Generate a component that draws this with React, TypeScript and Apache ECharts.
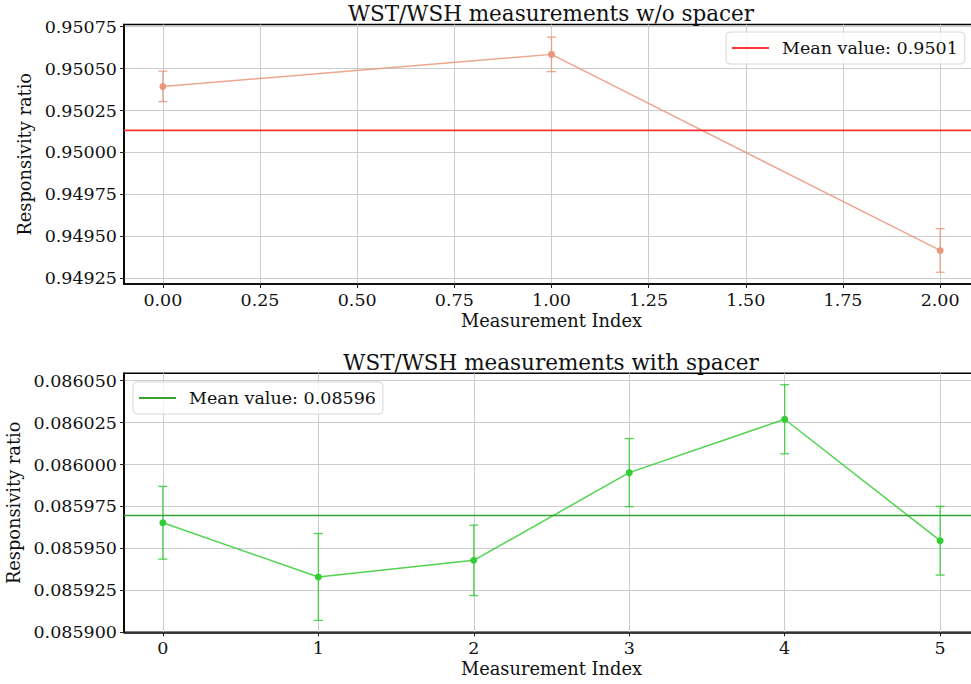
import React, { useEffect, useRef } from "react";
import * as echarts from "echarts";

// ---- Data: WST/WSH measurements w/o spacer ----
const xNoSpacer = [0, 1, 2];
const valNoSpacer = [0.950394, 0.950585, 0.949416];
const errNoSpacer = [0.000091, 0.000103, 0.00013];
const legendNoSpacer = "Mean value: 0.9501";

// ---- Data: WST/WSH measurements with spacer ----
const xSpacer = [0, 1, 2, 3, 4, 5];
const valSpacer = [0.0859653, 0.085933, 0.0859429, 0.0859952, 0.086027, 0.0859546];
const errSpacer = [0.0000217, 0.0000259, 0.000021, 0.0000203, 0.0000206, 0.0000205];
const legendSpacer = "Mean value: 0.08596";

// ---- Tick values ----
const xTicksTop = [0, 0.25, 0.5, 0.75, 1.0, 1.25, 1.5, 1.75, 2.0];
const yTicksTop = [0.94925, 0.9495, 0.94975, 0.95, 0.95025, 0.9505, 0.95075];
const xTicksBottom = [0, 1, 2, 3, 4, 5];
const yTicksBottom = [0.0859, 0.085925, 0.08595, 0.085975, 0.086, 0.086025, 0.08605];

// ---- Axis ranges ----
const xRangeTop = [-0.1, 2.1];
const yRangeTop = [0.949216, 0.9507631];
const xRangeBottom = [-0.25, 5.25];
const yRangeBottom = [0.0859, 0.0860544];

const FONT = "DejaVu Serif";
const TICK_FS = 17.5;
const NAME_FS = 17.8;
const mean = (a: number[]) => a.reduce((s, v) => s + v, 0) / a.length;

function errorBarSeries(
  name: string,
  xs: number[],
  ys: number[],
  es: number[],
  color: string,
  idx: number
) {
  return {
    type: "custom",
    name,
    xAxisIndex: idx,
    yAxisIndex: idx,
    silent: true,
    z: 3,
    data: xs.map((x, i) => [x, ys[i], es[i]]),
    encode: { x: 0, y: 1 },
    renderItem: (params: any, api: any) => {
      const x = api.value(0);
      const y = api.value(1);
      const e = api.value(2);
      const top = api.coord([x, y + e]);
      const bot = api.coord([x, y - e]);
      const hw = 4.5;
      const style = { stroke: color, lineWidth: 1.3, fill: null };
      return {
        type: "group",
        children: [
          { type: "line", shape: { x1: top[0], y1: top[1], x2: bot[0], y2: bot[1] }, style },
          { type: "line", shape: { x1: top[0] - hw, y1: top[1], x2: top[0] + hw, y2: top[1] }, style },
          { type: "line", shape: { x1: bot[0] - hw, y1: bot[1], x2: bot[0] + hw, y2: bot[1] }, style },
        ],
      };
    },
  };
}

function xAxisCfg(idx: number, range: number[], ticks: number[], digits: number) {
  return {
    type: "value",
    gridIndex: idx,
    min: range[0],
    max: range[1],
    name: "Measurement Index",
    nameLocation: "middle",
    nameGap: 27,
    nameTextStyle: { fontFamily: FONT, fontSize: NAME_FS, color: "#111" },
    axisLine: { show: true, onZero: false, lineStyle: { color: "#000", width: 1.6 } },
    axisTick: { show: true, length: 4, customValues: ticks, lineStyle: { color: "#222", width: 1 } },
    axisLabel: {
      customValues: ticks,
      margin: 7,
      fontFamily: FONT,
      fontSize: TICK_FS,
      color: "#111",
      formatter: (v: number) => v.toFixed(digits),
    },
    splitLine: { show: true, lineStyle: { color: "#cccccc", width: 1 } },
  };
}

function yAxisCfg(idx: number, range: number[], ticks: number[], digits: number, gap: number) {
  return {
    type: "value",
    gridIndex: idx,
    min: range[0],
    max: range[1],
    scale: true,
    name: "Responsivity ratio",
    nameLocation: "middle",
    nameGap: gap,
    nameTextStyle: { fontFamily: FONT, fontSize: NAME_FS, color: "#111" },
    axisLine: { show: true, onZero: false, lineStyle: { color: "#000", width: 1.6 } },
    axisTick: { show: true, length: 4, customValues: ticks, lineStyle: { color: "#222", width: 1 } },
    axisLabel: {
      customValues: ticks,
      margin: 7,
      fontFamily: FONT,
      fontSize: TICK_FS,
      color: "#111",
      formatter: (v: number) => v.toFixed(digits),
    },
    splitLine: { show: true, lineStyle: { color: "#cccccc", width: 1 } },
  };
}

export default function App() {
  const ref = useRef<HTMLDivElement>(null);

  useEffect(() => {
    if (!ref.current) return;
    const chart = echarts.init(ref.current, null, { renderer: "svg" });

    const topColor = "#E9967A";
    const topLine = "rgba(233,150,122,0.85)";
    const topMeanColor = "#FF3333";
    const botColor = "#32CD32";
    const botLine = "rgba(50,205,50,0.85)";
    const botMeanColor = "#36A336";

    const meanTop = mean(valNoSpacer);
    const meanBot = mean(valSpacer);

    const legendCommon = {
      orient: "horizontal",
      icon: "rect",
      itemWidth: 37,
      itemHeight: 2,
      backgroundColor: "rgba(255,255,255,0.8)",
      borderColor: "#d6d6d6",
      borderWidth: 1,
      borderRadius: 4,
      padding: [7, 7, 7, 6],
      textStyle: { fontFamily: FONT, fontSize: TICK_FS, color: "#111", padding: [0, 0, 0, 8] },
      selectedMode: false,
    };

    const option: any = {
      animation: false,
      backgroundColor: "#ffffff",
      title: [
        {
          text: "WST/WSH measurements w/o spacer",
          left: 546,
          top: -3,
          textAlign: "center",
          textStyle: { fontFamily: FONT, fontSize: 21.5, fontWeight: "normal", color: "#111" },
        },
        {
          text: "WST/WSH measurements with spacer",
          left: 546,
          top: 346,
          textAlign: "center",
          textStyle: { fontFamily: FONT, fontSize: 21.5, fontWeight: "normal", color: "#111" },
        },
      ],
      legend: [
        { ...legendCommon, data: [legendNoSpacer], left: 726, top: 32 },
        { ...legendCommon, data: [legendSpacer], left: 133, top: 382 },
      ],
      grid: [
        {
          left: 124, width: 855, top: 24.5, height: 259.5,
          outerBoundsMode: "none",
          show: true, borderColor: "#000", borderWidth: 1.6, backgroundColor: "transparent",
        },
        {
          left: 124, width: 855, top: 373.3, height: 259,
          outerBoundsMode: "none",
          show: true, borderColor: "#000", borderWidth: 1.6, backgroundColor: "transparent",
        },
      ],
      xAxis: [
        xAxisCfg(0, xRangeTop, xTicksTop, 2),
        xAxisCfg(1, xRangeBottom, xTicksBottom, 0),
      ],
      yAxis: [
        yAxisCfg(0, yRangeTop, yTicksTop, 5, 81),
        yAxisCfg(1, yRangeBottom, yTicksBottom, 6, 97),
      ],
      series: [
        {
          type: "line",
          name: "data-top",
          xAxisIndex: 0,
          yAxisIndex: 0,
          data: xNoSpacer.map((x, i) => [x, valNoSpacer[i]]),
          symbol: "circle",
          symbolSize: 7,
          showSymbol: true,
          itemStyle: { color: topColor },
          lineStyle: { color: topLine, width: 1.5 },
          z: 4,
        },
        errorBarSeries("err-top", xNoSpacer, valNoSpacer, errNoSpacer, topLine, 0),
        {
          type: "line",
          name: legendNoSpacer,
          xAxisIndex: 0,
          yAxisIndex: 0,
          data: [
            [xRangeTop[0], meanTop],
            [xRangeTop[1], meanTop],
          ],
          showSymbol: false,
          symbol: "none",
          itemStyle: { color: topMeanColor },
          lineStyle: { color: topMeanColor, width: 1.6 },
          z: 5,
        },
        {
          type: "line",
          name: "data-bottom",
          xAxisIndex: 1,
          yAxisIndex: 1,
          data: xSpacer.map((x, i) => [x, valSpacer[i]]),
          symbol: "circle",
          symbolSize: 7,
          showSymbol: true,
          itemStyle: { color: botColor },
          lineStyle: { color: botLine, width: 1.5 },
          z: 4,
        },
        errorBarSeries("err-bottom", xSpacer, valSpacer, errSpacer, botLine, 1),
        {
          type: "line",
          name: legendSpacer,
          xAxisIndex: 1,
          yAxisIndex: 1,
          data: [
            [xRangeBottom[0], meanBot],
            [xRangeBottom[1], meanBot],
          ],
          showSymbol: false,
          symbol: "none",
          itemStyle: { color: botMeanColor },
          lineStyle: { color: botMeanColor, width: 1.6 },
          z: 5,
        },
      ],
    };

    chart.setOption(option);
    return () => {
      chart.dispose();
    };
  }, []);

  return (
    <div
      ref={ref}
      style={{ position: "fixed", left: 0, top: 0, width: 971, height: 684, background: "#fff" }}
    />
  );
}
